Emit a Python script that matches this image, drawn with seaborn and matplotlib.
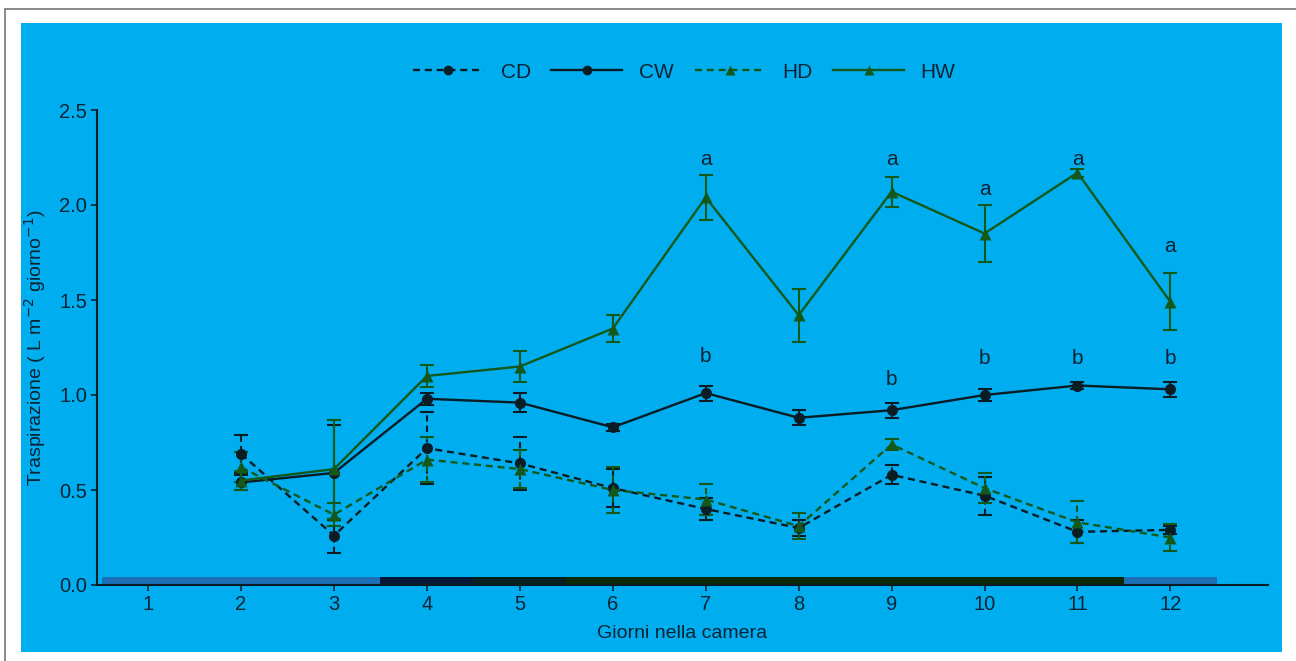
import numpy as np
import pandas as pd
import matplotlib
matplotlib.use("Agg")
import matplotlib.pyplot as plt
import seaborn as sns
from matplotlib.patches import Rectangle

# %%
giorni = [2, 3, 4, 5, 6, 7, 8, 9, 10, 11, 12]

cd_mean = [0.69, 0.26, 0.72, 0.64, 0.51, 0.40, 0.30, 0.58, 0.47, 0.28, 0.29]
cd_err = [0.10, 0.09, 0.19, 0.14, 0.10, 0.06, 0.04, 0.05, 0.10, 0.06, 0.02]
cw_mean = [0.54, 0.59, 0.98, 0.96, 0.83, 1.01, 0.88, 0.92, 1.00, 1.05, 1.03]
cw_err = [0.04, 0.25, 0.03, 0.05, 0.02, 0.04, 0.04, 0.04, 0.03, 0.02, 0.04]
hd_mean = [0.62, 0.37, 0.66, 0.61, 0.50, 0.45, 0.31, 0.74, 0.51, 0.33, 0.25]
hd_err = [0.08, 0.06, 0.12, 0.10, 0.12, 0.08, 0.07, 0.03, 0.08, 0.11, 0.07]
hw_mean = [0.55, 0.61, 1.10, 1.15, 1.35, 2.04, 1.42, 2.07, 1.85, 2.17, 1.49]
hw_err = [0.05, 0.26, 0.06, 0.08, 0.07, 0.12, 0.14, 0.08, 0.15, 0.02, 0.15]

# lettere di significativita
lett_a_x = [7, 9, 10, 11, 12]
lett_a_y = [2.24, 2.24, 2.08, 2.24, 1.78]
lett_b_x = [7, 9, 10, 11, 12]
lett_b_y = [1.20, 1.08, 1.19, 1.19, 1.19]

# fasce di trattamento sull'asse x
fasce_inizio = [0.5, 3.5, 4.5, 5.5, 11.5]
fasce_fine = [3.5, 4.5, 5.5, 11.5, 12.5]
fasce_col = ["#1a6fb6", "#04183a", "#042020", "#0a2a06", "#1a6fb6"]

# %%
bg = "#00aeef"
txt = "#0a2334"
nero = "#0a1c24"
verde = "#14591c"

df = pd.DataFrame({
    "giorno": giorni * 4,
    "valore": cd_mean + cw_mean + hd_mean + hw_mean,
    "err": cd_err + cw_err + hd_err + hw_err,
    "tesi": ["CD"] * 11 + ["CW"] * 11 + ["HD"] * 11 + ["HW"] * 11,
})

plt.rcParams["font.family"] = ["Liberation Sans", "DejaVu Sans"]

fig = plt.figure(figsize=(12.96, 6.61), dpi=100)
fig.patches.append(Rectangle((21 / 1296, 1 - 652 / 661), (1282 - 21) / 1296, (652 - 23) / 661,
                             transform=fig.transFigure, fc=bg, ec="none", zorder=-10))
fig.patches.append(Rectangle((5 / 1296, -0.1), 1.2, 1 - 9 / 661 + 0.1,
                             transform=fig.transFigure, fc="none", ec="#777777", lw=1.2, zorder=-10))
ax = fig.add_axes([97 / 1296, 1 - 585 / 661, (1268 - 97) / 1296, (585 - 110) / 661])
ax.set_facecolor(bg)

palette = {"CD": nero, "CW": nero, "HD": verde, "HW": verde}
markers = {"CD": "o", "CW": "o", "HD": "^", "HW": "^"}
dashes = {"CD": (3, 2), "CW": "", "HD": (3, 2), "HW": ""}

sns.lineplot(data=df, x="giorno", y="valore", hue="tesi", style="tesi",
             palette=palette, markers=markers, dashes=dashes, markersize=8,
             markeredgecolor="none", linewidth=1.7, ax=ax, zorder=3)

for tesi, grp in df.groupby("tesi"):
    eb = ax.errorbar(grp["giorno"], grp["valore"], yerr=grp["err"], fmt="none",
                     ecolor=palette[tesi], elinewidth=1.5, capsize=5, capthick=1.5, zorder=2)
    if tesi in ("CD", "HD"):
        for lc in eb[2]:
            lc.set_linestyle((0, (3, 2)))

for x, y in zip(lett_a_x, lett_a_y):
    ax.text(x, y, "a", ha="center", va="center", fontsize=15, color=txt)
for x, y in zip(lett_b_x, lett_b_y):
    ax.text(x, y, "b", ha="center", va="center", fontsize=15, color=txt)

for x0, x1, c in zip(fasce_inizio, fasce_fine, fasce_col):
    ax.barh(0.021, x1 - x0, left=x0, height=0.042, color=c, edgecolor="none", zorder=1)

ax.set_xlim(0.45, 13.05)
ax.set_ylim(0, 2.5)
ax.set_xticks(range(1, 13))
ax.set_yticks([0.0, 0.5, 1.0, 1.5, 2.0, 2.5])
ax.set_yticklabels(["0.0", "0.5", "1.0", "1.5", "2.0", "2.5"])
ax.tick_params(colors=txt, labelsize=14.5, length=4, width=1.2, direction="out", pad=3)
for s in ["top", "right"]:
    ax.spines[s].set_visible(False)
for s in ["left", "bottom"]:
    ax.spines[s].set_color(nero)
    ax.spines[s].set_linewidth(1.5)

ax.set_xlabel("Giorni nella camera", fontsize=14, color=txt, labelpad=8)
ax.set_ylabel("Traspirazione ( L m$^{-2}$ giorno$^{-1}$)", fontsize=14, color=txt, labelpad=8)

ax.get_legend().remove()
handles, labels = ax.get_legend_handles_labels()
for h in handles:
    h.set_markersize(7)
fig.legend(handles, labels, loc="center", bbox_to_anchor=(0.528, 1 - 72 / 661), ncol=4,
           frameon=False, fontsize=15, handlelength=3.4, columnspacing=1.0,
           labelcolor=txt, handletextpad=0.8)

fig.savefig("out.png", dpi=100, facecolor="white")
